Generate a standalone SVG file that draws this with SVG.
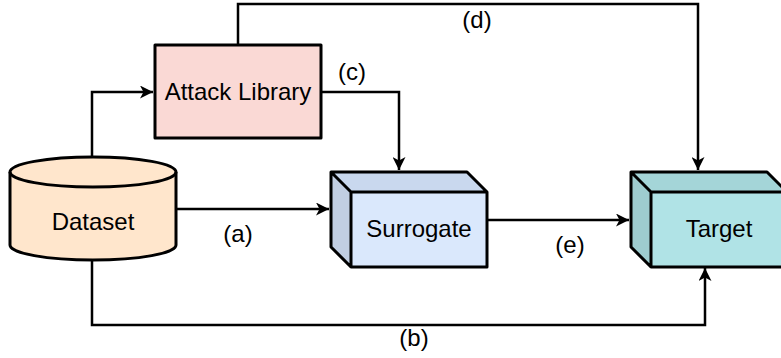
<svg xmlns="http://www.w3.org/2000/svg" width="781" height="358" viewBox="0 0 781 358">
<style>
.s{stroke:#000;stroke-width:3;stroke-linejoin:round}
.c{fill:none;stroke:#000;stroke-width:2.5}
.t{font-family:"Liberation Sans",Arial,sans-serif;font-size:24px;fill:#000;text-anchor:middle}
</style>
<defs>
<marker id="ah" markerUnits="userSpaceOnUse" markerWidth="14" markerHeight="13" refX="13" refY="6.5" orient="auto">
<path d="M0,0 L13,6.5 L0,13 L3.5,6.5 Z" fill="#000"/>
</marker>
</defs>
<rect width="781" height="358" fill="#fff"/>
<g id="connectors">
<path class="c" d="M92,157 L92,92 L153,92" marker-end="url(#ah)"/>
<path class="c" d="M321,92 L399,92 L399,170" marker-end="url(#ah)"/>
<path class="c" d="M238,45 L238,4 L698,4 L698,170" marker-end="url(#ah)"/>
<path class="c" d="M176,209 L329,209" marker-end="url(#ah)"/>
<path class="c" d="M487,220 L629,220" marker-end="url(#ah)"/>
<path class="c" d="M92,260 L92,325 L705,325 L705,268" marker-end="url(#ah)"/>
<text class="t" x="352" y="80">(c)</text>
<text class="t" x="477" y="28">(d)</text>
<text class="t" x="238" y="242">(a)</text>
<text class="t" x="570" y="253">(e)</text>
<text class="t" x="414" y="346">(b)</text>
</g>
<g id="dataset">
<path class="s" fill="#ffe6cc" d="M10,172 A83,15 0 0 1 176,172 L176,245 A83,15 0 0 1 10,245 Z"/>
<path class="s" fill="none" d="M10,172 A83,15 0 0 0 176,172"/>
<text class="t" x="93" y="230">Dataset</text>
</g>
<g id="attack-library">
<rect class="s" x="155" y="45" width="166" height="93" fill="#fad9d5"/>
<text class="t" x="238" y="100">Attack Library</text>
</g>
<g id="surrogate">
<path fill="#c9d8ee" d="M331,172 L467,172 L487,192 L351,192 Z"/>
<path fill="#c1cee2" d="M331,172 L351,192 L351,267 L331,247 Z"/>
<rect x="351" y="192" width="136" height="75" fill="#dae8fc"/>
<path class="s" fill="none" d="M331,172 L467,172 L487,192 L487,267 L351,267 L331,247 Z M331,172 L351,192 L487,192 M351,192 L351,267"/>
<text class="t" x="419" y="237">Surrogate</text>
</g>
<g id="target">
<path fill="#a4d5d8" d="M631,172 L767,172 L787,192 L651,192 Z"/>
<path fill="#9ecccf" d="M631,172 L651,192 L651,267 L631,247 Z"/>
<rect x="651" y="192" width="136" height="75" fill="#b0e3e6"/>
<path class="s" fill="none" d="M631,172 L767,172 L787,192 L787,267 L651,267 L631,247 Z M631,172 L651,192 L787,192 M651,192 L651,267"/>
<text class="t" x="719" y="237">Target</text>
</g>
</svg>
